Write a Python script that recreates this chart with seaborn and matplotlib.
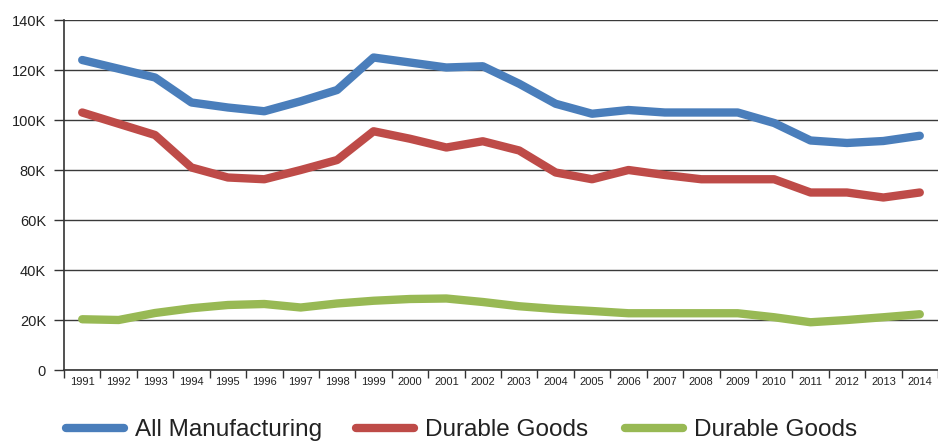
import matplotlib
matplotlib.use("Agg")
import matplotlib.pyplot as plt
from matplotlib import font_manager
from matplotlib.lines import Line2D
from matplotlib.ticker import FixedLocator, FuncFormatter
import seaborn as sns
import pandas as pd

years = [str(y) for y in range(1991, 2015)]
all_manufacturing = [124, 120.5, 117, 107, 105, 103.5, 107.5, 112, 125, 123, 121, 121.5,
                     114.5, 106.5, 102.5, 104, 103, 103, 103, 98.8, 91.8, 90.8, 91.6, 93.7]
durable_goods = [103, 98.5, 94, 81, 77, 76.3, 80, 84, 95.5, 92.5, 89, 91.5,
                 87.8, 79, 76.3, 80, 78, 76.3, 76.3, 76.3, 71, 71, 69, 71]
nondurable_goods = [20.3, 20, 22.8, 24.7, 26, 26.4, 25, 26.6, 27.7, 28.4, 28.6, 27.2,
                    25.5, 24.4, 23.6, 22.7, 22.7, 22.7, 22.7, 21.1, 19.1, 20, 21.1, 22.3]
series_labels = ["All Manufacturing", "Durable Goods", "Durable Goods"]
y_ticks = [0, 20, 40, 60, 80, 100, 120, 140]
colors = ["#4A7EBB", "#BE4B48", "#98B954"]

sns.set_theme(style="white")
avail = {f.name for f in font_manager.fontManager.ttflist}
main_font = "Liberation Sans Narrow" if "Liberation Sans Narrow" in avail else "Liberation Sans"
plt.rcParams["font.family"] = [main_font, "DejaVu Sans"]

fig = plt.figure(figsize=(9.38, 4.41), dpi=100)
ax = fig.add_axes([64 / 938, 71 / 441, (938 - 64) / 938, 350 / 441])

idx = list(range(len(years)))
handles = []
for vals, lab, col in zip([all_manufacturing, durable_goods, nondurable_goods], series_labels, colors):
    df = pd.DataFrame({"x": idx, "y": vals})
    sns.lineplot(data=df, x="x", y="y", ax=ax, color=col, linewidth=6,
                 solid_capstyle="round", solid_joinstyle="round", legend=False, zorder=3)
    handles.append(Line2D([0], [0], color=col, linewidth=6, solid_capstyle="round", label=lab))

ax.set_xlim(-0.5, len(years) - 0.5)
ax.set_ylim(0, 140)
ax.set_xlabel("")
ax.set_ylabel("")

ax.set_yticks(y_ticks)
ax.yaxis.set_major_formatter(FuncFormatter(lambda v, p: "0" if v == 0 else f"{int(v)}K"))
ax.grid(axis="y", color="#3a3a3a", linewidth=1.0)
ax.grid(axis="x", visible=False)
ax.set_axisbelow(True)

ax.xaxis.set_major_locator(FixedLocator([i - 0.5 for i in range(len(years) + 1)]))
ax.xaxis.set_minor_locator(FixedLocator(idx))
ax.set_xticklabels([""] * (len(years) + 1))
ax.set_xticklabels(years, minor=True)
ax.tick_params(axis="x", which="major", direction="out", length=6, width=1, color="#333333", bottom=True)
ax.tick_params(axis="x", which="minor", length=0, pad=5, labelsize=8, labelcolor="#222222", bottom=True)
ax.tick_params(axis="y", direction="out", length=7, width=1, color="#333333", pad=6,
               labelsize=10.5, labelcolor="#222222", left=True)

for s in ["top", "right"]:
    ax.spines[s].set_visible(False)
for s in ["left", "bottom"]:
    ax.spines[s].set_color("#333333")
    ax.spines[s].set_linewidth(1.2)

legend_x = [66, 356, 625]
for h, lab, lx in zip(handles, series_labels, legend_x):
    fig.legend(handles=[h], labels=[lab], loc="center left",
               bbox_to_anchor=(lx / 938, 1 - 430 / 441), frameon=False,
               fontsize=17.5, handlelength=2.4, handletextpad=0.45,
               labelcolor="#222222", borderaxespad=0, borderpad=0)

fig.savefig("out.png", dpi=100)
